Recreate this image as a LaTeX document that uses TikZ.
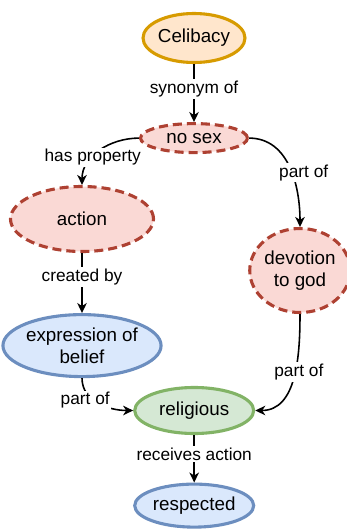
\documentclass[tikz,border=0pt]{standalone}
\usepackage{fontspec}
\setmainfont{Liberation Sans}
\usepackage{xcolor}
\usetikzlibrary{shapes.geometric, arrows.meta, positioning}

\definecolor{orangefill}{HTML}{FFE6CC}
\definecolor{orangeline}{HTML}{D79B00}
\definecolor{redfill}{HTML}{FAD9D5}
\definecolor{redline}{HTML}{AE4132}
\definecolor{bluefill}{HTML}{DAE8FC}
\definecolor{blueline}{HTML}{6C8EBF}
\definecolor{greenfill}{HTML}{D5E8D4}
\definecolor{greenline}{HTML}{82B366}

\begin{document}
\begin{tikzpicture}[
    x=1pt, y=-1pt,
    concept/.style={ellipse, draw, line width=3.1pt, inner sep=0pt, align=center, font=\fontsize{18.8}{21.6}\selectfont},
    topic/.style={concept, fill=orangefill, draw=orangeline},
    vague/.style={concept, fill=redfill, draw=redline, dash pattern=on 9pt off 5pt},
    leaf/.style={concept, fill=bluefill, draw=blueline},
    hub/.style={concept, fill=greenfill, draw=greenline},
    arrow/.style={-{Stealth[length=10pt, width=9.5pt, inset=3pt]}, line width=1.57pt},
    lbl/.style={fill=white, inner sep=1.5pt, font=\fontsize{17.3}{19}\selectfont}
]
\useasboundingbox (0,0) rectangle (347,529);

% Top: the term and its synonym
\node[topic, minimum width=95pt, minimum height=49pt] (celibacy) at (194,38) {Celibacy};
\node[vague, minimum width=107pt, minimum height=29pt, below=58pt of celibacy] (nosex) {no sex};

% Left branch
\node[vague, minimum width=143pt, minimum height=65pt] (action) at (82,219) {action};
\node[leaf, minimum width=127pt, minimum height=62pt, below=60pt of action] (expression) {expression of\\belief};

% Right branch
\node[vague, minimum width=90pt, minimum height=84pt] (devotion) at (300,270.5) {devotion\\to god};

% Bottom
\node[hub, minimum width=119pt, minimum height=46pt] (religious) at (194.2,410.5) {religious};
\node[leaf, minimum width=119pt, minimum height=43pt, below=47.5pt of religious] (respected) {respected};

% Arrows
\draw[arrow] (celibacy) -- node[lbl, pos=0.43] {synonym of} (nosex);
\draw[arrow] (nosex.west) to[out=180, in=90] node[lbl, pos=0.62] {has property} (action.north);
\draw[arrow] (nosex.east) to[out=0, in=90] node[lbl, pos=0.55, xshift=12pt] {part of} (devotion.north);
\draw[arrow] (action) -- node[lbl, pos=0.4] {created by} (expression);
\draw[arrow] (expression.south) to[out=270, in=180] node[lbl, pos=0.42, xshift=-9pt] {part of} (religious.west);
\draw[arrow] (devotion.south) to[out=270, in=0] node[lbl, pos=0.45, xshift=4pt] {part of} (religious.east);
\draw[arrow] (religious) -- node[lbl, pos=0.4] {receives action} (respected);

\end{tikzpicture}
\end{document}
